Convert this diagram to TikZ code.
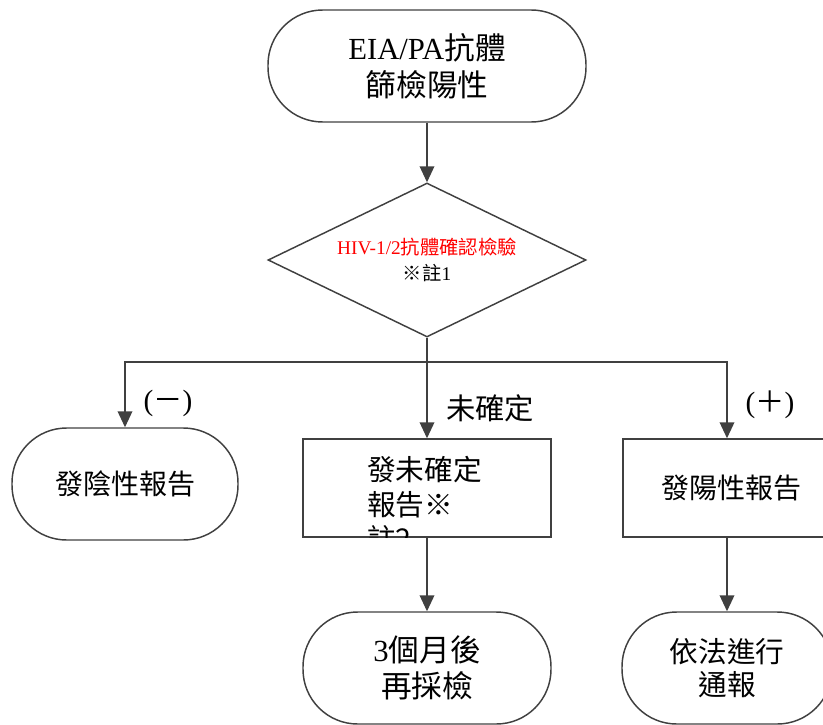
\documentclass[tikz,border=0pt]{standalone}
\usepackage{fontspec}
\setmainfont{Liberation Serif}
\newfontfamily\cjk{Noto Sans CJK TC}
\usetikzlibrary{shapes.geometric,arrows.meta}
\definecolor{linegray}{RGB}{64,64,64}

\tikzset{
	flowline/.style={draw=linegray,line width=1.1pt},
	flowarrow/.style={flowline,-{Triangle[length=12pt,width=11pt]}},
	terminal/.style={flowline,rectangle,rounded corners=41pt,minimum height=84pt,inner sep=0pt,align=center},
	procbox/.style={flowline,rectangle,minimum height=73.5pt,inner sep=0pt,align=center},
	decision/.style={flowline,diamond,aspect=2.065,minimum width=238.5pt,minimum height=115.5pt,inner sep=0pt,align=center},
	branchlbl/.style={inner sep=0pt,font=\fontsize{22}{26}\selectfont}
}

\begin{document}
\begin{tikzpicture}[x=0.75pt,y=-0.75pt]
	\useasboundingbox (0,0) rectangle (823,724);
	\node[terminal,minimum width=238.5pt,font=\fontsize{23}{28}\selectfont] (screen) at (427,66) {EIA/PA{\cjk 抗體}\\{\cjk 篩檢陽性}};
	\node[decision,font=\fontsize{14.5}{19}\selectfont] (confirm) at (427,260) {{\color{red}HIV-1/2{\cjk 抗體確認檢驗}}\\{\cjk ※註}1};
	\coordinate (split) at (427,362);
	\node[terminal,minimum width=169.5pt,font=\fontsize{21}{26}\selectfont] (neg) at (125,484) {{\cjk 發陰性報告}};
	\node[procbox,minimum width=186pt] (pend) at (427,488) {};
	\node[procbox,minimum width=156pt,font=\fontsize{21}{26}\selectfont] (pos) at (727,488) {\hspace*{7pt}{\cjk 發陽性報告}};
	\node[terminal,minimum width=186pt,font=\fontsize{23}{27}\selectfont] (retest) at (427,668) {3{\cjk 個月後}\\{\cjk 再採檢}};
	\node[terminal,minimum width=157.5pt,font=\fontsize{21.5}{25}\selectfont] (report) at (727,668) {{\cjk 依法進行}\\{\cjk 通報}};
	% text of the middle box is cut off by its border
	\begin{scope}
		\clip (pend.south west) rectangle (pend.north east);
		\node[anchor=west,align=left,inner sep=0pt,font=\fontsize{21.5}{26}\selectfont] (pendtxt) at (367,504) {{\cjk 發未確定}\\{\cjk 報告※}\\{\cjk 註2}};
	\end{scope}
	% branch labels
	\node[branchlbl] (neglbl) at (168,403) {({\cjk －})};
	\node[branchlbl] (pendlbl) at (490,408) {{\cjk 未確定}};
	\node[branchlbl] (poslbl) at (770,405) {({\cjk ＋})};
	% connectors
	\draw[flowarrow] (screen.south) -- (confirm.north);
	\draw[flowline] (confirm.south) -- (split);
	\draw[flowarrow] (split) -| (neg.north);
	\draw[flowarrow] (split) -- (pend.north);
	\draw[flowarrow] (split) -| (pos.north);
	\draw[flowarrow] (pend.south) -- (retest.north);
	\draw[flowarrow] (pos.south) -- (report.north);
\end{tikzpicture}
\end{document}
